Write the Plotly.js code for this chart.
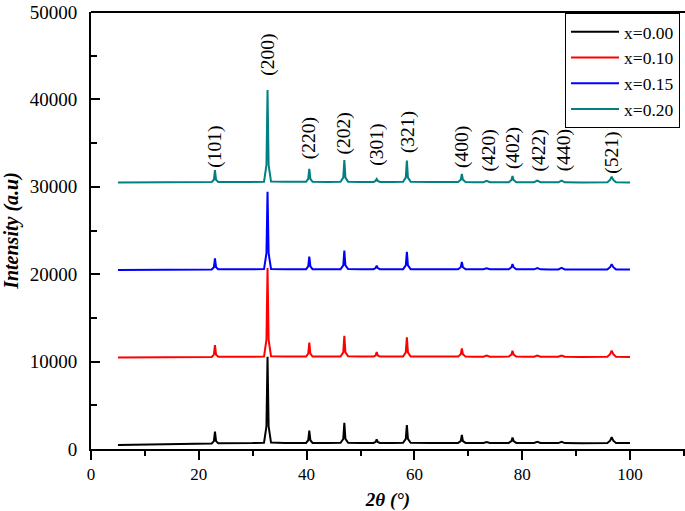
<!DOCTYPE html>
<html>
<head>
<meta charset="utf-8">
<script src="https://cdn.plot.ly/plotly-3.0.1.min.js"></script>
<style>html,body{margin:0;padding:0;background:#fff}#chart{width:685px;height:511px}</style>
</head>
<body>
<div id="chart"></div>
<script>
// 2θ sample positions (degrees)
const twoTheta = [5, 15,
  22.4, 22.8, 23.0, 23.2, 23.6, 30,
  32.1, 32.55, 32.75, 32.95, 33.4, 36,
  39.9, 40.3, 40.5, 40.7, 41.1, 44,
  46.3, 46.8, 47.0, 47.2, 47.7, 50,
  52.4, 52.8, 53.0, 53.2, 53.6, 56,
  57.9, 58.4, 58.6, 58.8, 59.3, 63,
  68.1, 68.6, 68.8, 69.0, 69.5, 71,
  72.8, 73.4, 74.0, 76,
  77.5, 78.0, 78.2, 78.4, 78.9, 80.5,
  82.2, 82.8, 83.4, 85,
  86.7, 87.3, 87.9, 91,
  95.8, 96.3, 96.6, 96.9, 97.4, 100];

const seriesNames = ["x=0.00", "x=0.10", "x=0.15", "x=0.20"];
const seriesColors = ["#000000", "#ff0000", "#0000ff", "#008080"];

const int000 = [470, 580,
  640, 900, 1980, 900, 660, 680,
  720, 2600, 10560, 2600, 740, 700,
  700, 1000, 2100, 1000, 700, 700,
  710, 1150, 3000, 1150, 720, 700,
  700, 800, 1100, 800, 700, 700,
  720, 1150, 2750, 1150, 720, 690,
  700, 900, 1600, 900, 700, 690,
  690, 800, 690, 690,
  700, 900, 1300, 900, 700, 690,
  690, 820, 690, 680,
  680, 830, 680, 670,
  690, 950, 1340, 950, 690, 680];

const int010 = [10470, 10520,
  10540, 10800, 11900, 10800, 10560, 10560,
  10580, 12500, 20710, 12500, 10600, 10580,
  10580, 10900, 12160, 10900, 10580, 10580,
  10590, 11050, 12960, 11050, 10600, 10580,
  10580, 10700, 11100, 10700, 10580, 10580,
  10590, 11050, 12780, 11050, 10590, 10570,
  10570, 10850, 11520, 10850, 10570, 10560,
  10560, 10680, 10560, 10560,
  10570, 10800, 11250, 10800, 10570, 10560,
  10560, 10700, 10560, 10550,
  10550, 10700, 10550, 10540,
  10560, 10850, 11250, 10850, 10560, 10540];

const int015 = [20480, 20520,
  20540, 20800, 21820, 20800, 20560, 20560,
  20580, 22400, 29440, 22400, 20600, 20570,
  20570, 20900, 22000, 20900, 20570, 20570,
  20580, 21000, 22690, 21000, 20590, 20570,
  20570, 20700, 20970, 20700, 20570, 20570,
  20580, 21000, 22570, 21000, 20580, 20560,
  20560, 20800, 21400, 20800, 20560, 20560,
  20560, 20680, 20560, 20560,
  20560, 20800, 21170, 20800, 20560, 20560,
  20560, 20700, 20560, 20550,
  20550, 20720, 20550, 20540,
  20550, 20800, 21140, 20800, 20550, 20540];

const int020 = [30480, 30530,
  30550, 30800, 31920, 30800, 30560, 30560,
  30580, 32500, 41080, 32500, 30600, 30570,
  30570, 30900, 32040, 30900, 30570, 30560,
  30580, 31050, 33070, 31050, 30590, 30560,
  30560, 30680, 30890, 30680, 30560, 30550,
  30570, 31050, 32990, 31050, 30570, 30540,
  30540, 30800, 31460, 30800, 30540, 30530,
  30530, 30680, 30530, 30520,
  30530, 30780, 31240, 30780, 30530, 30520,
  30520, 30700, 30520, 30510,
  30510, 30710, 30510, 30500,
  30510, 30780, 31160, 30780, 30510, 30500];

const peakLabels = ["(101)", "(200)", "(220)", "(202)", "(301)", "(321)", "(400)", "(420)", "(402)", "(422)", "(440)", "(521)"];
const peakLabelX = [23.0, 32.8, 40.5, 47.0, 53.0, 58.7, 68.7, 73.9, 78.3, 83.2, 87.8, 96.6];
const peakLabelY = [31950, 42450, 32950, 33520, 32150, 33670, 31950, 31570, 31800, 31570, 31570, 31230];

const allY = [int000, int010, int015, int020];
const serif = "Liberation Serif";

const traces = allY.map((ys, i) => ({
  x: twoTheta, y: ys, type: "scatter", mode: "lines",
  name: seriesNames[i],
  line: {color: seriesColors[i], width: 2}
}));

const annotations = peakLabels.map((t, i) => ({
  x: peakLabelX[i], y: peakLabelY[i], xref: "x", yref: "y",
  text: t, showarrow: false, textangle: -90,
  xanchor: "center", yanchor: "bottom",
  font: {family: serif, size: 19.5, color: "#000"}
}));

const layout = {
  width: 685, height: 511,
  margin: {l: 91, r: 0, t: 12, b: 62},
  paper_bgcolor: "#fff", plot_bgcolor: "#fff",
  font: {family: serif, color: "#000"},
  showlegend: true,
  legend: {
    x: 0.798, y: 0.998, xanchor: "left", yanchor: "top",
    bordercolor: "#000", borderwidth: 1, bgcolor: "#fff",
    font: {family: serif, size: 17.5, color: "#000"},
    itemwidth: 48,
    tracegroupgap: 0
  },
  xaxis: {
    range: [0, 110.2], dtick: 20, tick0: 0,
    showgrid: false, zeroline: false,
    showline: true, linecolor: "#000", linewidth: 2,
    ticks: "outside", ticklen: 9, tickwidth: 2, tickcolor: "#000",
    minor: {dtick: 10, ticks: "outside", ticklen: 5, tickwidth: 2, tickcolor: "#000"},
    tickfont: {family: serif, size: 17, color: "#000"},
    title: {text: "<b><i>2θ (°)</i></b>", font: {family: serif, size: 19, color: "#000"}, standoff: 10}
  },
  yaxis: {
    range: [0, 50000], dtick: 10000, tick0: 0, tickformat: "d",
    showgrid: false, zeroline: false,
    showline: true, linecolor: "#000", linewidth: 2,
    ticks: "inside", ticklen: 9, tickwidth: 2, tickcolor: "#000",
    minor: {dtick: 5000, ticks: "inside", ticklen: 6, tickwidth: 2, tickcolor: "#000"},
    tickfont: {family: serif, size: 19, color: "#000"},
    ticklabelstandoff: 8,
    title: {text: "<b><i>Intensity (a.u)</i></b>", font: {family: serif, size: 20, color: "#000"}, standoff: 8}
  },
  shapes: [{type: "line", xref: "paper", yref: "paper", x0: 0, x1: 1, y0: 1, y1: 1,
    line: {color: "#000", width: 2}}],
  annotations: annotations
};

Plotly.newPlot("chart", traces, layout, {displayModeBar: false, staticPlot: true});
</script>
</body>
</html>
